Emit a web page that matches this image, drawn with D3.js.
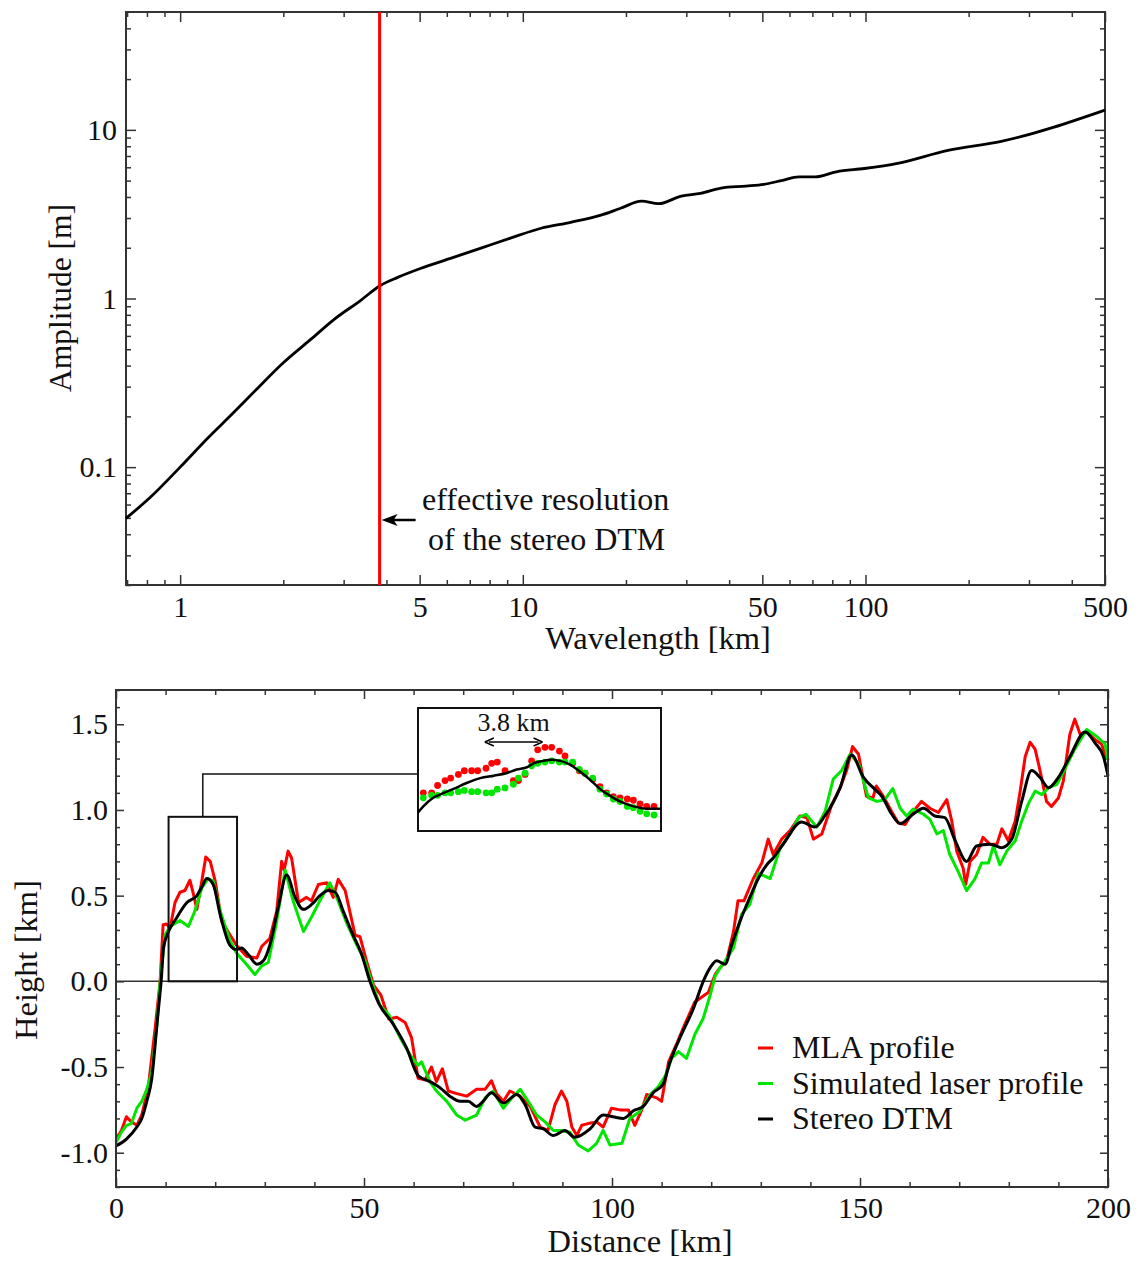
<!DOCTYPE html>
<html>
<head>
<meta charset="utf-8">
<script src="https://cdn.jsdelivr.net/npm/d3@7"></script>
<style>
body { margin: 0; background: #fff; }
svg text { font-family: "Liberation Serif", "Times New Roman", serif; fill: #111; }
</style>
</head>
<body>
<svg id="fig" width="1143" height="1262"></svg>
<script>
// ---- top panel: amplitude spectrum ----
var wavelengthKm = [0.695, 0.817, 1.0, 1.197, 1.43, 1.675, 2.0, 2.4, 2.81, 3.36, 3.84, 4.3, 5.0, 6.15, 7.55, 9.2, 11.3, 13.8, 16.9, 19.3, 22.2, 24.9, 29.0, 33.0, 37.9, 44.8, 50.5, 56.8, 63.9, 71.3, 82.2, 99.3, 124, 174, 249, 500];
var amplitudeM   = [0.0497, 0.066, 0.100, 0.147, 0.21, 0.291, 0.416, 0.57, 0.75, 0.973, 1.195, 1.33, 1.50, 1.73, 1.99, 2.28, 2.61, 2.83, 3.12, 3.43, 3.78, 3.65, 4.05, 4.2, 4.52, 4.64, 4.75, 5.0, 5.26, 5.26, 5.64, 5.9, 6.33, 7.56, 8.55, 13.1];
var effResolutionKm = 3.82;
var topXLabels = [1, 5, 10, 50, 100, 500];
var topXMinor = [0.7, 0.8, 0.9, 2, 3, 4, 6, 7, 8, 9, 20, 30, 40, 60, 70, 80, 90, 200, 300, 400];
var topYLabels = [0.1, 1, 10];
var topYMinor = [0.02, 0.03, 0.04, 0.05, 0.06, 0.07, 0.08, 0.09, 0.2, 0.3, 0.4, 0.5, 0.6, 0.7, 0.8, 0.9, 2, 3, 4, 5, 6, 7, 8, 9, 20, 30, 40];

// ---- bottom panel: profiles ----
var mlaKm = [0, 1.1, 2.1, 3.1, 4.2, 5.2, 6.5, 7.9, 8.9, 9.5, 10.2, 10.9, 11.9, 12.9, 13.9, 14.9, 15.6, 16.3, 17.3, 18.1, 19.0, 20.0, 21.3, 23.0, 24.3, 26.3, 28.4, 29.4, 31.0, 32.4, 33.4, 33.9, 34.7, 35.4, 36.8, 38.4, 39.4, 40.8, 42.5, 43.8, 44.8, 46.2, 48.2, 49.2, 50.5, 51.9, 53.4, 55.0, 56.6, 58.3, 59.6, 60.9, 62.3, 63.6, 64.6, 65.8, 67.0, 68.7, 70.7, 72.7, 74.4, 75.7, 76.7, 78.1, 79.4, 81.5, 83.5, 85.5, 87.1, 88.5, 89.8, 90.9, 91.9, 92.9, 93.9, 95.2, 96.9, 98.2, 99.9, 101.6, 103.3, 104.6, 106.0, 107.0, 109.0, 110.0, 111.4, 113.1, 114.7, 116.7, 119.4, 120.8, 121.8, 123.1, 124.5, 125.4, 126.6, 128.5, 130.2, 131.5, 132.5, 134.2, 135.9, 137.9, 139.3, 140.6, 142.3, 144.3, 146.0, 147.3, 148.5, 149.7, 151.3, 152.6, 153.3, 154.7, 156.4, 157.7, 159.1, 160.7, 162.4, 164.1, 165.8, 167.5, 168.5, 169.5, 170.8, 171.3, 172.2, 173.5, 174.8, 176.2, 177.6, 178.6, 179.9, 181.3, 182.3, 183.3, 184.3, 185.3, 186.3, 187.6, 188.6, 190.0, 191.0, 192.3, 193.3, 194.4, 195.7, 197.4, 198.7, 199.7];
var mlaH = [-0.92, -0.87, -0.79, -0.82, -0.84, -0.78, -0.62, -0.27, 0.0, 0.33, 0.335, 0.31, 0.46, 0.52, 0.53, 0.59, 0.51, 0.42, 0.585, 0.725, 0.70, 0.585, 0.35, 0.27, 0.21, 0.146, 0.136, 0.205, 0.25, 0.41, 0.70, 0.65, 0.76, 0.72, 0.46, 0.49, 0.47, 0.565, 0.575, 0.49, 0.595, 0.53, 0.27, 0.26, 0.12, -0.02, -0.08, -0.22, -0.21, -0.24, -0.33, -0.565, -0.575, -0.50, -0.585, -0.51, -0.64, -0.655, -0.67, -0.63, -0.63, -0.58, -0.655, -0.70, -0.64, -0.67, -0.73, -0.85, -0.87, -0.72, -0.64, -0.70, -0.85, -0.90, -0.84, -0.83, -0.82, -0.85, -0.74, -0.75, -0.75, -0.84, -0.75, -0.66, -0.68, -0.70, -0.47, -0.36, -0.25, -0.12, -0.065, 0.04, 0.08, 0.12, 0.29, 0.47, 0.47, 0.60, 0.69, 0.83, 0.74, 0.83, 0.88, 0.965, 0.955, 0.83, 0.86, 1.03, 1.13, 1.23, 1.37, 1.325, 1.08, 1.07, 1.14, 1.08, 0.99, 0.925, 0.915, 0.99, 1.05, 1.01, 0.985, 1.06, 0.935, 0.76, 0.66, 0.565, 0.70, 0.74, 0.84, 0.80, 0.80, 0.89, 0.82, 0.935, 1.11, 1.31, 1.395, 1.355, 1.23, 1.05, 1.02, 1.07, 1.17, 1.44, 1.53, 1.44, 1.455, 1.41, 1.385, 1.30];

var simKm = [0, 1.1, 2.1, 3.1, 4.2, 5.2, 6.2, 7.2, 8.2, 8.9, 9.9, 10.9, 12.9, 14.6, 15.9, 17.3, 18.6, 19.6, 21.0, 23.0, 24.3, 26.3, 28.0, 29.4, 30.7, 32.4, 34.1, 35.7, 37.8, 39.5, 41.1, 43.1, 44.5, 46.5, 48.5, 50.2, 51.5, 53.2, 55.0, 57.3, 59.3, 60.9, 61.6, 63.3, 64.6, 66.7, 68.7, 70.4, 72.7, 74.4, 76.0, 78.1, 79.8, 81.5, 83.1, 84.8, 86.5, 88.2, 89.8, 91.5, 93.2, 95.2, 96.9, 98.2, 99.6, 102.0, 103.6, 105.6, 107.7, 109.3, 110.7, 112.0, 113.4, 115.0, 116.7, 118.4, 119.8, 120.8, 121.8, 122.4, 124.5, 126.1, 127.8, 129.5, 131.9, 133.9, 135.9, 137.6, 139.1, 141.3, 143.0, 144.6, 146.3, 148.0, 149.7, 151.7, 153.4, 155.0, 156.6, 158.1, 159.4, 160.7, 162.8, 164.1, 165.5, 166.8, 168.1, 169.8, 171.5, 173.2, 174.5, 175.9, 176.9, 178.2, 179.6, 181.3, 182.6, 184.0, 185.3, 186.7, 188.0, 189.7, 191.4, 193.3, 195.7, 197.7, 199.4, 200];
var simH = [-0.94, -0.88, -0.84, -0.83, -0.74, -0.70, -0.63, -0.53, -0.27, 0.0, 0.27, 0.32, 0.355, 0.32, 0.41, 0.545, 0.60, 0.585, 0.41, 0.235, 0.165, 0.10, 0.04, 0.09, 0.11, 0.35, 0.65, 0.47, 0.29, 0.38, 0.47, 0.575, 0.49, 0.34, 0.215, 0.12, 0.0, -0.14, -0.195, -0.33, -0.43, -0.49, -0.47, -0.585, -0.64, -0.70, -0.78, -0.81, -0.78, -0.68, -0.64, -0.74, -0.68, -0.63, -0.70, -0.78, -0.82, -0.87, -0.87, -0.88, -0.955, -0.99, -0.945, -0.87, -0.955, -0.945, -0.80, -0.76, -0.66, -0.615, -0.555, -0.45, -0.41, -0.45, -0.31, -0.215, -0.08, 0.03, 0.08, 0.10, 0.195, 0.39, 0.45, 0.63, 0.60, 0.78, 0.86, 0.955, 0.975, 0.90, 0.995, 1.18, 1.23, 1.325, 1.27, 1.07, 1.05, 1.06, 1.125, 1.01, 0.965, 1.005, 0.975, 0.945, 0.86, 0.88, 0.74, 0.64, 0.53, 0.60, 0.69, 0.69, 0.79, 0.68, 0.76, 0.82, 0.935, 1.04, 1.11, 1.09, 1.13, 1.15, 1.245, 1.355, 1.47, 1.43, 1.385, 1.29];

var dtmKm = [0, 2.1, 4.2, 5.2, 6.2, 7.2, 8.2, 8.7, 9.1, 9.6, 10.3, 12.2, 14.3, 16.3, 17.3, 18.3, 19.6, 21.0, 23.0, 24.3, 25.3, 26.7, 28.4, 29.7, 31.0, 32.7, 34.4, 36.1, 37.8, 39.5, 41.1, 42.8, 44.2, 45.8, 47.8, 49.5, 51.2, 53.0, 55.9, 58.6, 60.9, 63.3, 65.3, 67.3, 69.4, 71.0, 72.7, 74.0, 75.7, 78.1, 80.8, 82.5, 84.5, 86.1, 88.2, 90.5, 92.5, 95.6, 98.2, 100.2, 102.3, 104.3, 106.3, 108.3, 110.3, 111.7, 114.0, 116.4, 118.4, 119.8, 121.1, 122.8, 124.1, 125.8, 127.8, 129.5, 131.2, 132.5, 134.5, 138.2, 140.9, 142.9, 146.0, 148.3, 150.7, 153.0, 154.4, 156.4, 158.1, 160.7, 162.8, 165.1, 167.1, 169.2, 171.5, 173.5, 176.2, 178.6, 180.6, 182.6, 184.6, 186.3, 188.0, 190.0, 192.3, 195.4, 197.4, 199.1, 200];
var dtmH = [-0.96, -0.92, -0.85, -0.80, -0.70, -0.57, -0.27, -0.12, 0.0, 0.20, 0.27, 0.37, 0.46, 0.50, 0.55, 0.60, 0.565, 0.39, 0.21, 0.185, 0.195, 0.155, 0.10, 0.12, 0.21, 0.43, 0.62, 0.49, 0.42, 0.45, 0.50, 0.53, 0.52, 0.41, 0.27, 0.16, 0.0, -0.13, -0.25, -0.39, -0.55, -0.585, -0.62, -0.67, -0.70, -0.70, -0.73, -0.70, -0.65, -0.71, -0.66, -0.72, -0.85, -0.86, -0.90, -0.87, -0.91, -0.86, -0.78, -0.79, -0.80, -0.755, -0.73, -0.65, -0.60, -0.47, -0.31, -0.16, 0.0, 0.08, 0.12, 0.10, 0.21, 0.35, 0.49, 0.60, 0.68, 0.72, 0.80, 0.93, 0.90, 0.965, 1.13, 1.32, 1.19, 1.12, 1.08, 0.975, 0.92, 0.975, 1.01, 0.965, 0.955, 0.82, 0.70, 0.79, 0.80, 0.78, 0.83, 1.05, 1.23, 1.19, 1.13, 1.19, 1.31, 1.455, 1.39, 1.31, 1.20];

var bottomXLabels = [0, 50, 100, 150, 200];
var bottomYLabels = [-1.0, -0.5, 0.0, 0.5, 1.0, 1.5];
var zoomBoxKm = [10.6, 24.4];
var zoomBoxH = [0, 0.96];

// ---- inset: shot-level detail, relative height ----
var insetKm = [10.35, 10.90, 11.29, 11.78, 12.15, 12.66, 13.05, 13.53, 13.93, 14.48, 14.85, 15.22, 15.73, 16.28, 16.61, 17.05, 17.48, 17.88, 18.36, 18.80, 19.31, 19.68, 20.18, 20.62, 21.00, 21.50, 21.98, 22.42, 22.86, 23.30, 23.78, 24.18, 24.62, 25.06, 25.54];
var insetMla = [0.31, 0.31, 0.37, 0.41, 0.43, 0.46, 0.49, 0.49, 0.49, 0.51, 0.55, 0.56, 0.49, 0.41, 0.41, 0.46, 0.57, 0.66, 0.68, 0.68, 0.65, 0.61, 0.55, 0.49, 0.47, 0.42, 0.36, 0.31, 0.28, 0.27, 0.26, 0.25, 0.22, 0.20, 0.20];
var insetSim = [0.27, 0.29, 0.29, 0.31, 0.31, 0.32, 0.33, 0.32, 0.32, 0.31, 0.31, 0.34, 0.35, 0.38, 0.43, 0.47, 0.53, 0.55, 0.56, 0.57, 0.56, 0.56, 0.56, 0.50, 0.47, 0.43, 0.34, 0.30, 0.26, 0.24, 0.20, 0.19, 0.16, 0.14, 0.13];
var insetDtmKm = [10.0, 10.35, 11.0, 11.7, 12.3, 13.2, 14.1, 15.0, 15.8, 16.5, 17.2, 17.6, 18.25, 18.8, 19.35, 20.0, 20.7, 21.3, 22.0, 22.6, 23.3, 24.2, 25.1, 26.0];
var insetDtm = [0.15, 0.20, 0.27, 0.31, 0.34, 0.39, 0.43, 0.45, 0.47, 0.50, 0.52, 0.55, 0.57, 0.58, 0.57, 0.54, 0.48, 0.42, 0.34, 0.29, 0.24, 0.20, 0.18, 0.18];
var shiftKm = [14.4, 18.2];

var RED = "#ff0000", GREEN = "#00e600", AXIS = "#333";
var TITLE_FS = 32.5;

var svg = d3.select("#fig");

function tickAxis(g, axisFn, scale, values, size, fmt, pad, fs) {
    var ax = axisFn(scale).tickValues(values).tickSize(-size).tickPadding(pad || 0)
        .tickFormat(fmt || "");
    g.call(ax);
    g.select(".domain").remove();
    g.selectAll(".tick line").attr("stroke", AXIS).attr("stroke-width", 1.5);
    g.selectAll(".tick text").attr("font-family", "Liberation Serif, serif")
        .attr("font-size", fs || 30).attr("fill", "#111");
    g.attr("font-family", null);
}

// ================= TOP PANEL =================
var T = { left: 126, right: 1105, top: 12, bottom: 585 };
var xT = d3.scaleLog().domain([0.695, 500]).range([T.left, T.right]);
var yT = d3.scaleLog().domain([0.02, 50]).range([T.bottom, T.top]);

var topG = svg.append("g");
tickAxis(topG.append("g").attr("transform", "translate(0," + T.bottom + ")"), d3.axisBottom, xT, topXLabels, 10, d3.format("d"), 11);
tickAxis(topG.append("g").attr("transform", "translate(0," + T.bottom + ")"), d3.axisBottom, xT, topXMinor, 5);
tickAxis(topG.append("g").attr("transform", "translate(0," + T.top + ")"), d3.axisTop, xT, topXLabels, 10);
tickAxis(topG.append("g").attr("transform", "translate(0," + T.top + ")"), d3.axisTop, xT, topXMinor, 5);
tickAxis(topG.append("g").attr("transform", "translate(" + T.left + ",0)"), d3.axisLeft, yT, topYLabels, 10, function(d) { return d >= 1 ? d3.format("d")(d) : "0.1"; }, 9);
tickAxis(topG.append("g").attr("transform", "translate(" + T.left + ",0)"), d3.axisLeft, yT, topYMinor, 5);
tickAxis(topG.append("g").attr("transform", "translate(" + T.right + ",0)"), d3.axisRight, yT, topYLabels, 10);
tickAxis(topG.append("g").attr("transform", "translate(" + T.right + ",0)"), d3.axisRight, yT, topYMinor, 5);

topG.append("rect")
    .attr("x", T.left).attr("y", T.top)
    .attr("width", T.right - T.left).attr("height", T.bottom - T.top)
    .attr("fill", "none").attr("stroke", AXIS).attr("stroke-width", 2);

var spectrum = wavelengthKm.map(function(d, i) { return [d, amplitudeM[i]]; });
topG.append("path")
    .datum(spectrum)
    .attr("fill", "none").attr("stroke", "#000").attr("stroke-width", 2.8)
    .attr("stroke-linejoin", "round")
    .attr("d", d3.line().x(d => xT(d[0])).y(d => yT(d[1])).curve(d3.curveMonotoneX));

topG.append("line")
    .attr("x1", xT(effResolutionKm)).attr("x2", xT(effResolutionKm))
    .attr("y1", T.top).attr("y2", T.bottom)
    .attr("stroke", RED).attr("stroke-width", 3);

// annotation arrow
var ax0 = xT(effResolutionKm) + 2, ay = 520;
topG.append("line").attr("x1", ax0 + 10).attr("x2", ax0 + 34).attr("y1", ay).attr("y2", ay)
    .attr("stroke", "#000").attr("stroke-width", 2.5);
topG.append("path")
    .attr("d", "M" + ax0 + "," + ay + " L" + (ax0 + 16) + "," + (ay - 6) + " L" + (ax0 + 12) + "," + ay + " L" + (ax0 + 16) + "," + (ay + 6) + " Z")
    .attr("fill", "#000");
topG.append("text").attr("x", 422).attr("y", 510).attr("font-size", 32).text("effective resolution");
topG.append("text").attr("x", 428).attr("y", 550).attr("font-size", 32).text("of the stereo DTM");

topG.append("text").attr("x", 658).attr("y", 649).attr("text-anchor", "middle")
    .attr("font-size", TITLE_FS).text("Wavelength [km]");
topG.append("text").attr("transform", "translate(71,298) rotate(-90)").attr("text-anchor", "middle")
    .attr("font-size", 31.5).text("Amplitude [m]");

// ================= BOTTOM PANEL =================
var B = { left: 116, right: 1108, top: 690, bottom: 1187 };
var xB = d3.scaleLinear().domain([0, 200]).range([B.left, B.right]);
var yB = d3.scaleLinear().domain([-1.2, 1.7]).range([B.bottom, B.top]);
var bxMinor = d3.range(10, 200, 10).filter(d => d % 50 !== 0);
var byMinor = d3.range(-12, 18).map(d => d / 10).filter(d => Math.abs(Math.round(d * 10) % 5) !== 0);

var botG = svg.append("g");
tickAxis(botG.append("g").attr("transform", "translate(0," + B.bottom + ")"), d3.axisBottom, xB, bottomXLabels, 9, d3.format("d"), 10);
tickAxis(botG.append("g").attr("transform", "translate(0," + B.bottom + ")"), d3.axisBottom, xB, bxMinor, 5);
tickAxis(botG.append("g").attr("transform", "translate(0," + B.top + ")"), d3.axisTop, xB, bottomXLabels, 9);
tickAxis(botG.append("g").attr("transform", "translate(0," + B.top + ")"), d3.axisTop, xB, bxMinor, 5);
tickAxis(botG.append("g").attr("transform", "translate(" + B.left + ",0)"), d3.axisLeft, yB, bottomYLabels, 8, d => d.toFixed(1), 8);
tickAxis(botG.append("g").attr("transform", "translate(" + B.left + ",0)"), d3.axisLeft, yB, byMinor, 4);
tickAxis(botG.append("g").attr("transform", "translate(" + B.right + ",0)"), d3.axisRight, yB, bottomYLabels, 8);
tickAxis(botG.append("g").attr("transform", "translate(" + B.right + ",0)"), d3.axisRight, yB, byMinor, 4);

botG.append("line")
    .attr("x1", B.left).attr("x2", B.right).attr("y1", yB(0)).attr("y2", yB(0))
    .attr("stroke", AXIS).attr("stroke-width", 1.5);

var series = [
    { km: mlaKm, h: mlaH, color: RED },
    { km: simKm, h: simH, color: GREEN },
    { km: dtmKm, h: dtmH, color: "#000", smooth: true }
];
series.forEach(function(s) {
    var pts = s.km.map((d, i) => [d, s.h[i]]);
    var line = d3.line().x(d => xB(d[0])).y(d => yB(d[1]));
    if (s.smooth) line.curve(d3.curveMonotoneX);
    botG.append("path").datum(pts)
        .attr("fill", "none").attr("stroke", s.color).attr("stroke-width", 3)
        .attr("stroke-linejoin", "round")
        .attr("d", line);
});

botG.append("rect")
    .attr("x", B.left).attr("y", B.top)
    .attr("width", B.right - B.left).attr("height", B.bottom - B.top)
    .attr("fill", "none").attr("stroke", AXIS).attr("stroke-width", 2);

// zoom box and connector
botG.append("rect")
    .attr("x", xB(zoomBoxKm[0])).attr("y", yB(zoomBoxH[1]))
    .attr("width", xB(zoomBoxKm[1]) - xB(zoomBoxKm[0]))
    .attr("height", yB(zoomBoxH[0]) - yB(zoomBoxH[1]))
    .attr("fill", "none").attr("stroke", "#111").attr("stroke-width", 2);

var I = { left: 418, right: 661, top: 708, bottom: 831 };
var cx = (xB(zoomBoxKm[0]) + xB(zoomBoxKm[1])) / 2;
botG.append("path")
    .attr("d", "M" + cx + "," + yB(zoomBoxH[1]) + " V774 H" + I.left)
    .attr("fill", "none").attr("stroke", "#111").attr("stroke-width", 1.5);

// inset
var xI = d3.scaleLinear().domain([10, 26]).range([I.left, I.right]);
var yI = d3.scaleLinear().domain([0, 1]).range([I.bottom, I.top]);
var inset = botG.append("g");
inset.append("rect")
    .attr("x", I.left).attr("y", I.top).attr("width", I.right - I.left).attr("height", I.bottom - I.top)
    .attr("fill", "#fff").attr("stroke", "#111").attr("stroke-width", 2);
inset.selectAll(".mla").data(insetKm).enter().append("circle")
    .attr("cx", d => xI(d)).attr("cy", (d, i) => yI(insetMla[i])).attr("r", 3.4).attr("fill", RED);
inset.selectAll(".sim").data(insetKm).enter().append("circle")
    .attr("cx", d => xI(d)).attr("cy", (d, i) => yI(insetSim[i])).attr("r", 3.4).attr("fill", GREEN);
inset.append("path")
    .datum(insetDtmKm.map((d, i) => [d, insetDtm[i]]))
    .attr("fill", "none").attr("stroke", "#000").attr("stroke-width", 2.5)
    .attr("d", d3.line().x(d => xI(d[0])).y(d => yI(d[1])).curve(d3.curveMonotoneX));

var sy = 742, sx0 = xI(shiftKm[0]), sx1 = xI(shiftKm[1]);
inset.append("line").attr("x1", sx0 + 4).attr("x2", sx1 - 4).attr("y1", sy).attr("y2", sy)
    .attr("stroke", "#000").attr("stroke-width", 1.5);
inset.append("path")
    .attr("d", "M" + sx0 + "," + sy + " l9,-4 M" + sx0 + "," + sy + " l9,4 M" + sx1 + "," + sy + " l-9,-4 M" + sx1 + "," + sy + " l-9,4")
    .attr("stroke", "#000").attr("stroke-width", 1.5).attr("fill", "none");
inset.append("text").attr("x", (sx0 + sx1) / 2).attr("y", 731).attr("text-anchor", "middle")
    .attr("font-size", 26).text("3.8 km");

// legend
var legend = [["MLA profile", RED], ["Simulated laser profile", GREEN], ["Stereo DTM", "#000"]];
legend.forEach(function(l, i) {
    var ly = 1048 + i * 35.5;
    botG.append("line").attr("x1", 758).attr("x2", 773).attr("y1", ly).attr("y2", ly)
        .attr("stroke", l[1]).attr("stroke-width", 3);
    botG.append("text").attr("x", 792).attr("y", ly + 10).attr("font-size", 32).text(l[0]);
});

botG.append("text").attr("x", 640).attr("y", 1252).attr("text-anchor", "middle")
    .attr("font-size", TITLE_FS).text("Distance [km]");
botG.append("text").attr("transform", "translate(37,960) rotate(-90)").attr("text-anchor", "middle")
    .attr("font-size", TITLE_FS).text("Height [km]");
</script>
</body>
</html>
